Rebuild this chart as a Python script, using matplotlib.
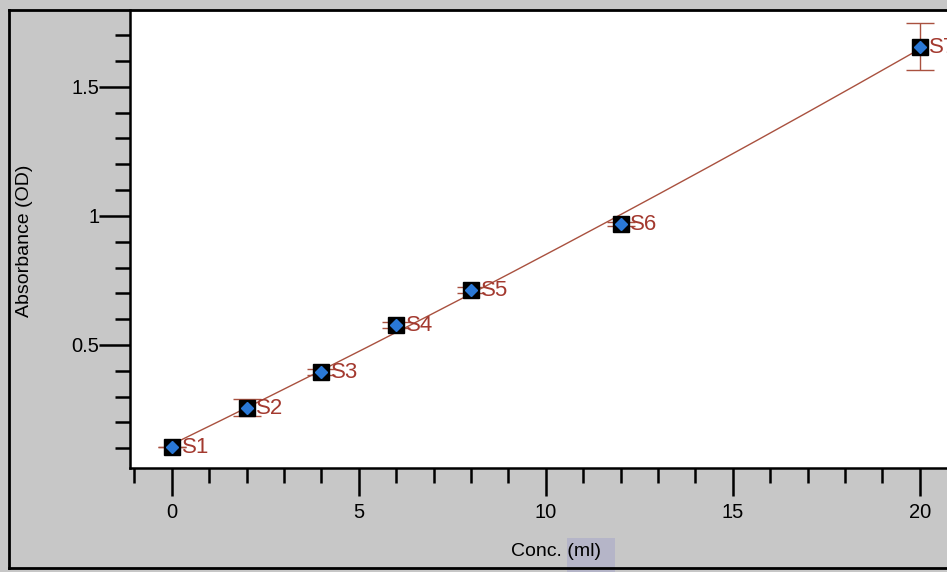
import numpy as np
import matplotlib
matplotlib.use("Agg")
import matplotlib.pyplot as plt
from matplotlib.ticker import MultipleLocator, FixedLocator, FixedFormatter
from matplotlib.patches import Rectangle

plt.rcParams['font.family'] = ['Liberation Sans', 'DejaVu Sans']

labels = ["S1", "S2", "S3", "S4", "S5", "S6", "S7"]
conc = [0, 2, 4, 6, 8, 12, 20]
absorb = [0.105, 0.256, 0.395, 0.578, 0.713, 0.969, 1.655]
err = [0.0, 0.033, 0.012, 0.012, 0.010, 0.008, 0.091]

line_col = "#a9513f"
text_col = "#a3392f"

fig = plt.figure(figsize=(9.47, 5.72), dpi=100)
fig.patch.set_facecolor("#c7c7c7")
ax = fig.add_axes([130/947, 1-468/572, 1-130/947, (468-10)/572])
ax.set_facecolor("white")

# fitted curve
coef = np.polyfit(conc, absorb, 2)
xs = np.linspace(min(conc), max(conc), 200)
ax.plot(xs, np.polyval(coef, xs), color=line_col, lw=1.0, zorder=2)

ax.errorbar(conc, absorb, yerr=err, fmt="none", ecolor=line_col, elinewidth=1.0,
            capsize=10, capthick=1.0, zorder=3)
ax.plot(conc, absorb, ls="none", marker="s", ms=11, mfc="black", mec="black", zorder=4)
ax.plot(conc, absorb, ls="none", marker="D", ms=6.3, mfc="#2a78d6", mec="#2a78d6", zorder=5)

for x, y, t in zip(conc, absorb, labels):
    ax.annotate(t, (x, y), xytext=(7, -0.5), textcoords="offset points", va="center",
                ha="left", color=text_col, fontsize=16, clip_on=True, zorder=6)

ax.set_xlim(-1.12, 20.73)
ax.set_ylim(0.023, 1.798)

ax.xaxis.set_major_locator(FixedLocator([0, 5, 10, 15, 20]))
ax.xaxis.set_minor_locator(MultipleLocator(1))
ax.yaxis.set_major_locator(FixedLocator([0.5, 1.0, 1.5]))
ax.yaxis.set_major_formatter(FixedFormatter(["0.5", "1", "1.5"]))
ax.yaxis.set_minor_locator(MultipleLocator(0.1))

ax.tick_params(axis="both", which="major", direction="out", width=1.8,
               labelsize=14.5, colors="black")
ax.tick_params(axis="x", which="major", length=20, pad=5)
ax.tick_params(axis="y", which="major", length=22, pad=0)
ax.tick_params(axis="both", which="minor", direction="out", length=11, width=1.8)

for s in ["top", "right"]:
    ax.spines[s].set_visible(False)
for s in ["left", "bottom"]:
    ax.spines[s].set_linewidth(1.8)

# faint highlight behind "(ml)" as in the scan
fig.add_artist(Rectangle((567/947, 1-572/572), 48/947, 34/572, transform=fig.transFigure,
                         facecolor="#b5b5c8", edgecolor="none", zorder=0))

ax.set_xlabel("Conc. (ml)", fontsize=14)
ax.set_ylabel("Absorbance (OD)", fontsize=14)
ax.xaxis.set_label_coords((556-130)/817, (468-543)/458)
ax.yaxis.set_label_coords((33-130)/817, (468-241)/458)

# outer frame
for xs_, ys_ in [([9/947, 1], [1-10/572, 1-10/572]),
                 ([9/947, 9/947], [1-10/572, 1-568/572]),
                 ([9/947, 1], [1-568/572, 1-568/572])]:
    fig.add_artist(plt.Line2D(xs_, ys_, color="black", lw=2.0, transform=fig.transFigure))

fig.savefig("out.png", dpi=100, facecolor=fig.get_facecolor())
